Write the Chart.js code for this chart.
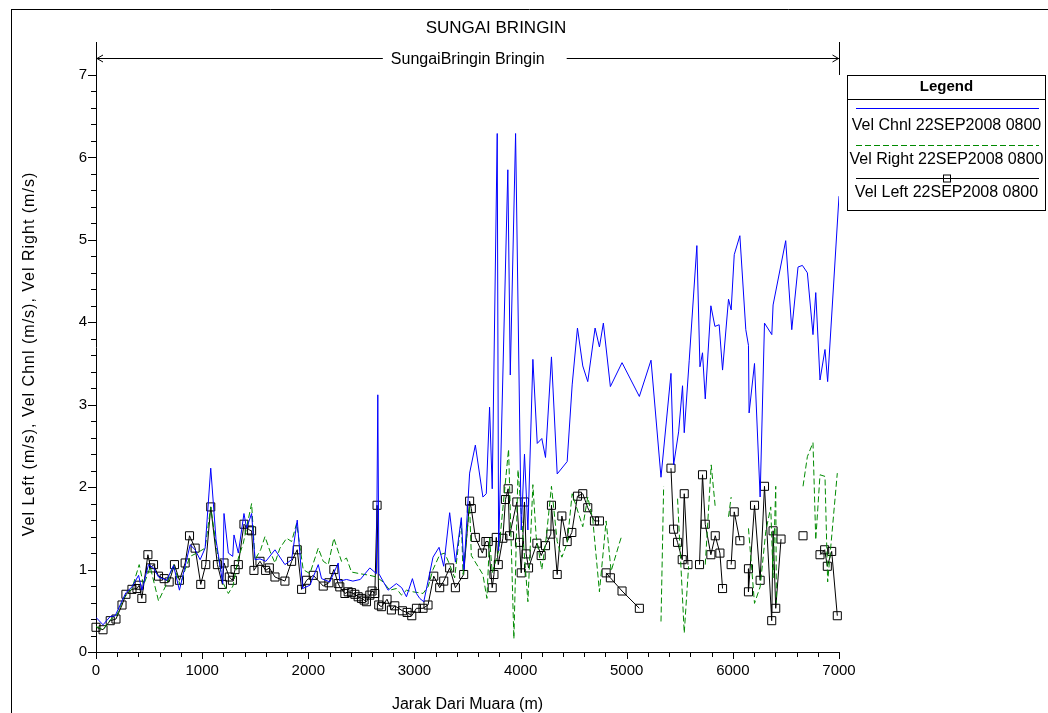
<!DOCTYPE html>
<html>
<head>
<meta charset="utf-8">
<script src="https://cdn.jsdelivr.net/npm/chart.js@4.4.1/dist/chart.umd.min.js"></script>
<style>
  html, body { margin: 0; padding: 0; background: #fff; }
  canvas { display: block; }
</style>
</head>
<body>
<canvas id="velChart" width="1048" height="713"></canvas>
<script>
// Distance from river mouth (m) and velocities (m/s)
const chnlX = [
  0, 66, 134, 181, 245, 282, 339, 401, 432, 495,
  542, 589, 667, 730, 786, 887, 934, 981, 1028, 1081,
  1131, 1194, 1206, 1247, 1288, 1300, 1341, 1394, 1419, 1466,
  1498, 1545, 1600, 1686, 1780, 1843, 1896, 1947, 2015, 2094,
  2125, 2203, 2282, 2297, 2360, 2420, 2490, 2580, 2642, 2655,
  2665, 2752, 2800, 2830, 2880, 2925, 2981, 3019, 3050, 3088,
  3175, 3232, 3276, 3332, 3386, 3442, 3467, 3520, 3574, 3645,
  3677, 3708, 3733, 3780, 3793, 3880, 3903, 3953, 4006, 4037,
  4069, 4116, 4157, 4200, 4235, 4291, 4345, 4439, 4486, 4536,
  4586, 4633, 4702, 4743, 4780, 4846, 4956, 5119, 5229, 5323,
  5417, 5442, 5489, 5526, 5542, 5589, 5661, 5690, 5714, 5740,
  5793, 5831, 5871, 5903, 5959, 5984, 6013, 6066, 6122, 6147,
  6153, 6204, 6257, 6298, 6367, 6379, 6498, 6555, 6614, 6655,
  6702, 6755, 6781, 6821, 6868, 6893, 7000
];
const chnlVel = [
  0.42, 0.33, 0.43, 0.44, 0.62, 0.72, 0.79, 0.93, 0.75, 1.06,
  1.02, 0.91, 0.87, 1.05, 0.75, 1.30, 1.24, 1.12, 1.26, 2.23,
  1.36, 0.83, 1.68, 1.20, 1.16, 1.42, 1.20, 1.68, 1.50, 1.68,
  1.12, 1.13, 1.10, 1.24, 1.06, 1.12, 1.60, 0.77, 0.81, 1.06,
  0.89, 0.85, 1.08, 0.86, 0.88, 0.86, 0.88, 1.02, 0.95, 3.12,
  0.95, 0.75, 0.80, 0.83, 0.78, 0.67, 0.89, 0.71, 0.65, 0.61,
  1.15, 1.27, 1.04, 1.69, 1.09, 1.63, 1.00, 2.17, 2.51, 1.88,
  1.92, 2.97, 1.98, 6.29, 1.23, 5.85, 3.36, 6.29, 1.48, 2.40,
  1.48, 3.55, 2.53, 2.59, 2.36, 3.58, 2.16, 2.31, 3.24, 3.93,
  3.47, 3.28, 3.93, 3.70, 3.99, 3.22, 3.51, 3.10, 3.54, 2.12,
  3.38, 2.27, 2.67, 3.23, 2.66, 3.54, 4.93, 3.46, 3.63, 3.07,
  4.20, 3.95, 3.97, 3.42, 4.28, 4.15, 4.82, 5.05, 3.91, 3.72,
  2.90, 3.50, 1.88, 3.99, 3.85, 4.21, 4.99, 3.91, 4.67, 4.69,
  4.60, 3.85, 4.36, 3.30, 3.67, 3.28, 5.53
];

// null = no value (line is broken there)
const rightX = [
  0, 66, 134, 197, 260, 339, 407, 448, 511, 589,
  667, 730, 793, 840, 887, 950, 1028, 1081, 1138, 1200,
  1247, 1290, 1341, 1388, 1466, 1498, 1551, 1592, 1640, 1686,
  1733, 1796, 1843, 1890, 1952, 2015, 2094, 2141, 2188, 2241,
  2282, 2313, 2360, 2407, 2486, 2580, 2642, 2705, 2768, 2830,
  2878, 2925, 2987, 3081, 3128, 3175, 3238, 3285, 3332, 3379,
  3442, 3458, 3520, 3536, 3645, 3683, 3708, 3733, 3795, 3887,
  3937, 3976, 4069, 4116, 4147, 4200, 4241, 4291, 4345, 4389,
  4439, 4486, 4586, 4633, 4680, 4743, 4806, 4853, 4931, 4956,
  5100, 5323, 5348, 5400, 5479, 5542, 5583, 5650, 5740, 5796,
  5834, 5900, 5959, 5984, 6100, 6147, 6204, 6257, 6310, 6357,
  6379, 6404, 6410, 6550, 6661, 6702, 6755, 6781, 6821, 6868,
  6893, 6984
];
const rightVel = [
  0.31, 0.27, 0.39, 0.45, 0.65, 0.77, 1.06, 0.81, 1.03, 0.62,
  0.83, 1.06, 0.81, 1.00, 1.16, 1.20, 1.26, 1.76, 1.24, 0.83,
  0.71, 0.80, 1.14, 1.32, 1.80, 1.12, 1.24, 1.40, 1.22, 1.08,
  1.26, 1.38, 1.34, 1.56, 1.00, 0.95, 1.26, 1.10, 1.06, 1.38,
  1.22, 1.10, 1.14, 0.97, 0.95, 0.93, 0.91, 0.85, 0.75, 0.77,
  0.69, 0.75, 0.73, 0.71, 0.79, 1.00, 1.18, 1.20, 1.06, 0.90,
  1.61, 0.94, 1.77, 1.17, 0.94, 0.65, 1.38, 0.96, 1.23, 2.46,
  0.16, 2.21, 0.61, 2.03, 1.40, 1.00, 1.38, 2.01, 1.34, 1.15,
  1.32, 1.92, 1.52, 1.88, 1.61, 0.73, 1.59, 0.98, 1.32, 1.42,
  null, 0.37, 2.01, null, 1.86, 0.23, 1.04, null, 1.06, 2.27,
  1.76, null, 1.64, 1.88, null, 1.50, 0.59, 0.79, 1.46, 1.76,
  0.90, 2.01, 0.60, null, 2.01, 2.37, 2.54, 1.36, 2.15, 2.13,
  0.85, 2.17
];

const leftX = [
  0, 66, 134, 188, 245, 282, 339, 386, 407, 432,
  489, 515, 542, 589, 642, 689, 739, 786, 840, 881,
  934, 987, 1034, 1081, 1144, 1191, 1206, 1256, 1285, 1310,
  1341, 1394, 1444, 1466, 1488, 1545, 1598, 1633, 1686, 1780,
  1843, 1896, 1937, 1984, 2047, 2141, 2194, 2241, 2282, 2297,
  2345, 2376, 2407, 2439, 2470, 2501, 2526, 2548, 2580, 2601,
  2627, 2648, 2664, 2689, 2742, 2783, 2815, 2887, 2931, 2975,
  3019, 3081, 3128, 3182, 3238, 3276, 3332, 3386, 3464, 3520,
  3536, 3574, 3640, 3673, 3695, 3733, 3749, 3771, 3790, 3833,
  3858, 3883, 3896, 3965, 3990, 4006, 4037, 4053, 4075, 4154,
  4194, 4235, 4285, 4291, 4345, 4389, 4439, 4483, 4536, 4586,
  4633, 4696, 4743, 4775, 4806, 4846, 4956, 5119, 5300, 5417,
  5442, 5479, 5523, 5542, 5577, 5630, 5686, 5714, 5740, 5793,
  5834, 5878, 5903, 5940, 5984, 6013, 6066, 6100, 6147, 6147,
  6204, 6257, 6298, 6366, 6379, 6404, 6454, 6550, 6661, 6740,
  6821, 6865, 6890, 6931, 6984
];
const leftVel = [
  0.30, 0.27, 0.38, 0.40, 0.57, 0.70, 0.76, 0.77, 0.81, 0.65,
  1.18, 1.02, 1.06, 0.92, 0.89, 0.85, 1.06, 0.87, 1.08, 1.41,
  1.26, 0.82, 1.06, 1.76, 1.06, 0.82, 1.08, 0.91, 0.87, 1.00,
  1.06, 1.55, 1.48, 1.47, 0.99, 1.10, 0.99, 1.02, 0.91, 0.86,
  1.10, 1.24, 0.76, 0.87, 0.93, 0.80, 0.84, 1.00, 0.83, 0.79,
  0.71, 0.73, 0.72, 0.70, 0.67, 0.65, 0.63, 0.61, 0.69, 0.74,
  0.71, 1.78, 0.57, 0.55, 0.64, 0.51, 0.56, 0.50, 0.48, 0.44,
  0.53, 0.53, 0.57, 0.92, 0.78, 0.86, 1.02, 0.78, 0.94, 1.83,
  1.74, 1.39, 1.20, 1.34, 1.34, 0.78, 0.94, 1.39, 1.06, 1.38,
  1.85, 1.98, 1.41, 1.82, 1.33, 0.96, 1.82, 1.19, 1.02, 1.32,
  1.17, 1.29, 1.43, 1.78, 0.94, 1.65, 1.34, 1.45, 1.89, 1.92,
  1.75, 1.59, 1.59, null, 0.96, 0.90, 0.74, 0.53, null, 2.23,
  1.49, 1.33, 1.12, 1.92, 1.06, null, 1.06, 2.15, 1.55, 1.18,
  1.41, 1.20, 0.77, null, 1.06, 1.70, 1.35, null, 1.01, 0.73,
  1.78, 0.87, 2.01, 0.38, 1.47, 0.53, 1.37, null, 1.41, null,
  1.18, 1.24, 1.04, 1.22, 0.44
];

const seriesNames = ['Vel Chnl 22SEP2008 0800', 'Vel Right 22SEP2008 0800', 'Vel Left 22SEP2008 0800'];
const xTickValues = [0, 1000, 2000, 3000, 4000, 5000, 6000, 7000];
const yTickValues = [0, 1, 2, 3, 4, 5, 6, 7];

const FONT = '"Liberation Sans", Arial, sans-serif';
const BLUE = '#0000ff';
const GREEN = '#008a00';

function toPoints(xs, ys) {
  return xs.map((x, i) => ({ x: x, y: ys[i] }));
}

function strokeLine(ctx, x1, y1, x2, y2) {
  ctx.beginPath();
  ctx.moveTo(x1, y1);
  ctx.lineTo(x2, y2);
  ctx.stroke();
}

// frame, minor ticks, reach arrow, titles and the boxed legend
const decorPlugin = {
  id: 'decor',
  afterDraw(chart) {
    const ctx = chart.ctx;
    const xs = chart.scales.x;
    const ys = chart.scales.y;
    const area = chart.chartArea;
    ctx.save();
    ctx.strokeStyle = '#000';
    ctx.fillStyle = '#000';
    ctx.lineWidth = 1;

    // outer frame
    strokeLine(ctx, 11.5, 9, 11.5, 713);
    strokeLine(ctx, 11, 9.5, 1048, 9.5);

    // tick marks
    xs.ticks.forEach(t => {
      const px = Math.round(xs.getPixelForValue(t.value)) + 0.5;
      const len = xTickValues.includes(t.value) ? 7 : 5;
      strokeLine(ctx, px, area.bottom, px, area.bottom + len);
    });
    ys.ticks.forEach(t => {
      const py = Math.round(ys.getPixelForValue(t.value)) + 0.5;
      const major = yTickValues.some(v => Math.abs(v - t.value) < 1e-6);
      strokeLine(ctx, area.left - (major ? 8 : 5), py, area.left, py);
    });

    // title
    ctx.font = '17px ' + FONT;
    ctx.textAlign = 'center';
    ctx.textBaseline = 'middle';
    ctx.fillText('SUNGAI BRINGIN', 496, 28);

    // reach arrow
    const x0 = area.left;
    const x1 = Math.round(xs.getPixelForValue(7000)) + 0.5;
    const ay = 58.5;
    ctx.font = '16px ' + FONT;
    const label = 'SungaiBringin Bringin';
    const cx = (x0 + x1) / 2;
    const w = ctx.measureText(label).width;
    strokeLine(ctx, x0, ay, cx - w / 2 - 8, ay);
    strokeLine(ctx, cx + w / 2 + 22, ay, x1, ay);
    ctx.beginPath();
    ctx.moveTo(x0 + 7, ay - 3.5); ctx.lineTo(x0 + 1, ay); ctx.lineTo(x0 + 7, ay + 3.5);
    ctx.moveTo(x1 - 7, ay - 3.5); ctx.lineTo(x1 - 1, ay); ctx.lineTo(x1 - 7, ay + 3.5);
    ctx.stroke();
    ctx.fillText(label, cx, ay + 1);
    strokeLine(ctx, x1, area.top, x1, ys.getPixelForValue(7));

    // axis titles
    ctx.fillText('Jarak Dari Muara (m)', (area.left + area.right) / 2, 705);
    ctx.save();
    ctx.translate(30, 354);
    ctx.rotate(-Math.PI / 2);
    ctx.letterSpacing = '1px';
    ctx.fillText('Vel Left (m/s), Vel Chnl (m/s), Vel Right (m/s)', 0, 0);
    ctx.restore();

    // legend box
    const lx = 847.5, rx = 1045.5, ty = 75.5, by = 210.5;
    const mid = (lx + rx) / 2;
    ctx.strokeRect(lx, ty, rx - lx, by - ty);
    strokeLine(ctx, lx, 99.5, rx, 99.5);
    ctx.font = 'bold 15px ' + FONT;
    ctx.fillText('Legend', mid, 87);
    ctx.font = '16px ' + FONT;

    ctx.strokeStyle = BLUE;
    strokeLine(ctx, 856, 108.5, 1039, 108.5);
    ctx.fillText(seriesNames[0], mid, 126);

    ctx.strokeStyle = GREEN;
    ctx.setLineDash([6, 3]);
    strokeLine(ctx, 856, 145.5, 1039, 145.5);
    ctx.setLineDash([]);
    ctx.fillText(seriesNames[1], mid, 160);

    ctx.strokeStyle = '#000';
    strokeLine(ctx, 856, 178.5, 1039, 178.5);
    ctx.strokeRect(Math.round(mid) - 3.5, 175, 7, 7);
    ctx.fillText(seriesNames[2], mid, 193);

    ctx.restore();
  }
};

const ctx = document.getElementById('velChart').getContext('2d');

new Chart(ctx, {
  type: 'line',
  data: {
    datasets: [
      {
        label: seriesNames[0],
        data: toPoints(chnlX, chnlVel),
        borderColor: BLUE,
        borderWidth: 1,
        pointRadius: 0,
        tension: 0
      },
      {
        label: seriesNames[1],
        data: toPoints(rightX, rightVel),
        borderColor: GREEN,
        borderWidth: 1,
        borderDash: [6, 3],
        pointRadius: 0,
        tension: 0,
        spanGaps: false
      },
      {
        label: seriesNames[2],
        data: toPoints(leftX, leftVel),
        borderColor: '#000',
        borderWidth: 1,
        pointStyle: 'rect',
        pointRadius: 5.7,
        pointBorderColor: '#000',
        pointBackgroundColor: 'rgba(0,0,0,0)',
        pointBorderWidth: 1,
        tension: 0,
        spanGaps: false,
        clip: false
      }
    ]
  },
  options: {
    responsive: false,
    animation: false,
    devicePixelRatio: 1,
    layout: { padding: { top: 42, right: 209, left: 0, bottom: 0 } },
    plugins: {
      legend: { display: false },
      tooltip: { enabled: false }
    },
    scales: {
      x: {
        type: 'linear',
        min: 0,
        max: 7000,
        afterBuildTicks: axis => {
          const t = [];
          for (let v = 0; v <= 7000; v += 200) t.push({ value: v });
          axis.ticks = t;
        },
        afterFit: scale => { scale.height = 61; },
        grid: { display: true, drawOnChartArea: false, drawTicks: true, tickLength: 8, color: 'rgba(0,0,0,0)' },
        border: { display: true, color: '#000', width: 1 },
        ticks: {
          autoSkip: false,
          maxRotation: 0,
          padding: 2,
          color: '#000',
          font: { family: FONT, size: 15 },
          callback: v => (xTickValues.includes(v) ? String(v) : '')
        }
      },
      y: {
        min: 0,
        max: 7.4,
        afterBuildTicks: axis => {
          const t = [];
          for (let i = 0; i <= 35; i++) t.push({ value: i / 5 });
          axis.ticks = t;
        },
        afterFit: scale => { scale.width = 96; },
        grid: { display: true, drawOnChartArea: false, drawTicks: true, tickLength: 8, color: 'rgba(0,0,0,0)' },
        border: { display: true, color: '#000', width: 1 },
        ticks: {
          autoSkip: false,
          padding: 1,
          color: '#000',
          font: { family: FONT, size: 15 },
          callback: v => {
            const r = Math.round(v);
            return Math.abs(v - r) < 1e-6 ? String(r) : '';
          }
        }
      }
    }
  },
  plugins: [decorPlugin]
});
</script>
</body>
</html>
